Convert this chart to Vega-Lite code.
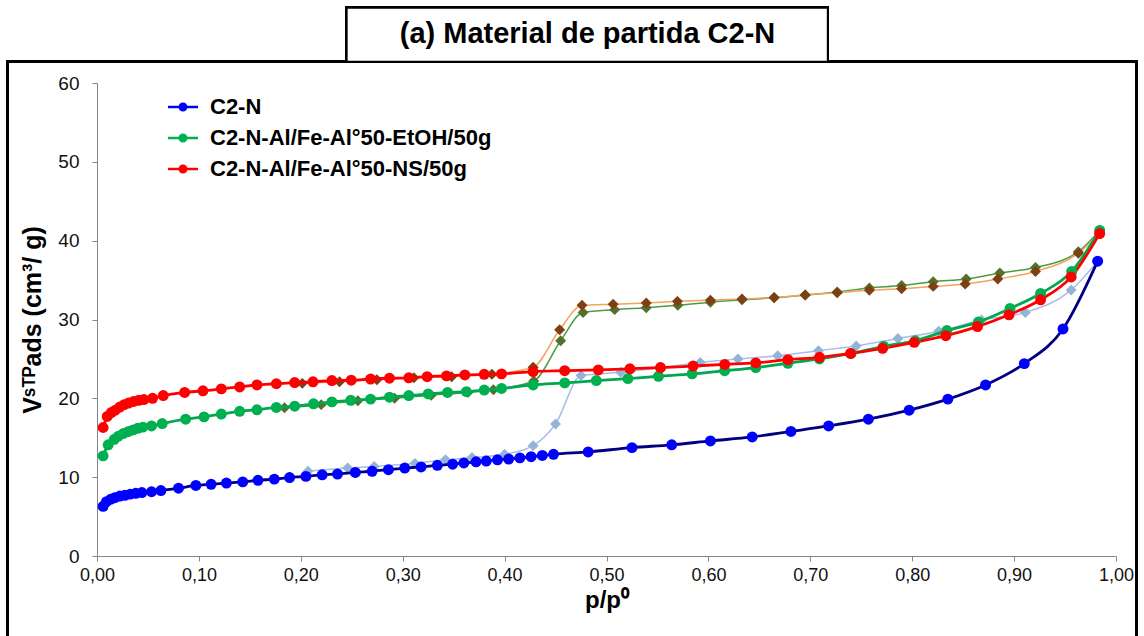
{
  "$schema": "https://vega.github.io/schema/vega-lite/v6.json",
  "autosize": "none",
  "width": 1019,
  "height": 473,
  "padding": {"left": 97, "top": 83, "right": 28, "bottom": 80},
  "background": "white",
  "title": {"text": "(a) Material de partida C2-N", "font": "Liberation Sans", "fontSize": 29, "fontWeight": "bold", "color": "black", "anchor": "middle", "dx": -19, "offset": -65, "baseline": "alphabetic"},
  "config": {
    "view": {"stroke": null},
    "axis": {"grid": false, "labelFlush": false, "domainColor": "#868686", "tickColor": "#868686", "tickSize": 5, "labelFont": "Liberation Sans", "labelColor": "#111", "titleFont": "Liberation Sans", "titleFontWeight": "bold", "titleColor": "black"},
    "legend": {"orient": "none", "legendX": 75, "legendY": 13, "padding": 0, "symbolType": "M-2,-0.16H2V0.16H-2Z M0.6,0A0.6,0.6 0 1,1 -0.6,0A0.6,0.6 0 1,1 0.6,0Z", "symbolSize": 225, "symbolStrokeWidth": 0, "labelFont": "Liberation Sans", "labelFontSize": 22, "labelFontWeight": "bold", "labelColor": "black", "labelOffset": 16, "labelLimit": 0, "rowPadding": 9}
  },
  "data": {"values": [
    {"p":0.006,"v":6.3,"serie":"C2-N","rama":"ads"},
    {"p":0.0093,"v":6.9,"serie":"C2-N","rama":"ads"},
    {"p":0.0136,"v":7.2,"serie":"C2-N","rama":"ads"},
    {"p":0.0175,"v":7.4,"serie":"C2-N","rama":"ads"},
    {"p":0.0224,"v":7.6,"serie":"C2-N","rama":"ads"},
    {"p":0.0273,"v":7.7,"serie":"C2-N","rama":"ads"},
    {"p":0.0326,"v":7.85,"serie":"C2-N","rama":"ads"},
    {"p":0.038,"v":7.95,"serie":"C2-N","rama":"ads"},
    {"p":0.044,"v":8.05,"serie":"C2-N","rama":"ads"},
    {"p":0.0535,"v":8.15,"serie":"C2-N","rama":"ads"},
    {"p":0.0627,"v":8.3,"serie":"C2-N","rama":"ads"},
    {"p":0.08,"v":8.6,"serie":"C2-N","rama":"ads"},
    {"p":0.097,"v":8.95,"serie":"C2-N","rama":"ads"},
    {"p":0.112,"v":9.1,"serie":"C2-N","rama":"ads"},
    {"p":0.127,"v":9.25,"serie":"C2-N","rama":"ads"},
    {"p":0.143,"v":9.4,"serie":"C2-N","rama":"ads"},
    {"p":0.158,"v":9.6,"serie":"C2-N","rama":"ads"},
    {"p":0.174,"v":9.75,"serie":"C2-N","rama":"ads"},
    {"p":0.189,"v":9.95,"serie":"C2-N","rama":"ads"},
    {"p":0.205,"v":10.1,"serie":"C2-N","rama":"ads"},
    {"p":0.221,"v":10.3,"serie":"C2-N","rama":"ads"},
    {"p":0.236,"v":10.4,"serie":"C2-N","rama":"ads"},
    {"p":0.2535,"v":10.6,"serie":"C2-N","rama":"ads"},
    {"p":0.27,"v":10.75,"serie":"C2-N","rama":"ads"},
    {"p":0.286,"v":10.95,"serie":"C2-N","rama":"ads"},
    {"p":0.302,"v":11.15,"serie":"C2-N","rama":"ads"},
    {"p":0.318,"v":11.3,"serie":"C2-N","rama":"ads"},
    {"p":0.334,"v":11.5,"serie":"C2-N","rama":"ads"},
    {"p":0.349,"v":11.65,"serie":"C2-N","rama":"ads"},
    {"p":0.36,"v":11.8,"serie":"C2-N","rama":"ads"},
    {"p":0.372,"v":11.95,"serie":"C2-N","rama":"ads"},
    {"p":0.382,"v":12.05,"serie":"C2-N","rama":"ads"},
    {"p":0.393,"v":12.2,"serie":"C2-N","rama":"ads"},
    {"p":0.404,"v":12.3,"serie":"C2-N","rama":"ads"},
    {"p":0.415,"v":12.45,"serie":"C2-N","rama":"ads"},
    {"p":0.426,"v":12.6,"serie":"C2-N","rama":"ads"},
    {"p":0.437,"v":12.75,"serie":"C2-N","rama":"ads"},
    {"p":0.448,"v":12.9,"serie":"C2-N","rama":"ads"},
    {"p":0.482,"v":13.2,"serie":"C2-N","rama":"ads"},
    {"p":0.525,"v":13.75,"serie":"C2-N","rama":"ads"},
    {"p":0.564,"v":14.1,"serie":"C2-N","rama":"ads"},
    {"p":0.602,"v":14.6,"serie":"C2-N","rama":"ads"},
    {"p":0.643,"v":15.1,"serie":"C2-N","rama":"ads"},
    {"p":0.681,"v":15.8,"serie":"C2-N","rama":"ads"},
    {"p":0.718,"v":16.5,"serie":"C2-N","rama":"ads"},
    {"p":0.757,"v":17.35,"serie":"C2-N","rama":"ads"},
    {"p":0.797,"v":18.5,"serie":"C2-N","rama":"ads"},
    {"p":0.835,"v":19.9,"serie":"C2-N","rama":"ads"},
    {"p":0.872,"v":21.7,"serie":"C2-N","rama":"ads"},
    {"p":0.91,"v":24.4,"serie":"C2-N","rama":"ads"},
    {"p":0.948,"v":28.8,"serie":"C2-N","rama":"ads"},
    {"p":0.982,"v":37.4,"serie":"C2-N","rama":"ads"},

    {"p":0.982,"v":37.4,"serie":"C2-N","rama":"des"},
    {"p":0.956,"v":33.75,"serie":"C2-N","rama":"des"},
    {"p":0.911,"v":30.9,"serie":"C2-N","rama":"des"},
    {"p":0.868,"v":29.95,"serie":"C2-N","rama":"des"},
    {"p":0.826,"v":28.5,"serie":"C2-N","rama":"des"},
    {"p":0.786,"v":27.6,"serie":"C2-N","rama":"des"},
    {"p":0.745,"v":26.65,"serie":"C2-N","rama":"des"},
    {"p":0.708,"v":26.05,"serie":"C2-N","rama":"des"},
    {"p":0.668,"v":25.4,"serie":"C2-N","rama":"des"},
    {"p":0.629,"v":25.0,"serie":"C2-N","rama":"des"},
    {"p":0.592,"v":24.55,"serie":"C2-N","rama":"des"},
    {"p":0.553,"v":23.9,"serie":"C2-N","rama":"des"},
    {"p":0.514,"v":23.3,"serie":"C2-N","rama":"des"},
    {"p":0.475,"v":22.9,"serie":"C2-N","rama":"des"},
    {"p":0.45,"v":16.75,"serie":"C2-N","rama":"des"},
    {"p":0.428,"v":14.0,"serie":"C2-N","rama":"des"},
    {"p":0.4,"v":12.9,"serie":"C2-N","rama":"des"},
    {"p":0.368,"v":12.5,"serie":"C2-N","rama":"des"},
    {"p":0.342,"v":12.2,"serie":"C2-N","rama":"des"},
    {"p":0.312,"v":11.75,"serie":"C2-N","rama":"des"},
    {"p":0.272,"v":11.35,"serie":"C2-N","rama":"des"},
    {"p":0.246,"v":11.15,"serie":"C2-N","rama":"des"},
    {"p":0.207,"v":10.75,"serie":"C2-N","rama":"des"},

    {"p":0.006,"v":12.7,"serie":"C2-N-Al/Fe-Al°50-EtOH/50g","rama":"ads"},
    {"p":0.011,"v":14.1,"serie":"C2-N-Al/Fe-Al°50-EtOH/50g","rama":"ads"},
    {"p":0.017,"v":14.8,"serie":"C2-N-Al/Fe-Al°50-EtOH/50g","rama":"ads"},
    {"p":0.021,"v":15.2,"serie":"C2-N-Al/Fe-Al°50-EtOH/50g","rama":"ads"},
    {"p":0.026,"v":15.55,"serie":"C2-N-Al/Fe-Al°50-EtOH/50g","rama":"ads"},
    {"p":0.031,"v":15.8,"serie":"C2-N-Al/Fe-Al°50-EtOH/50g","rama":"ads"},
    {"p":0.0355,"v":16.0,"serie":"C2-N-Al/Fe-Al°50-EtOH/50g","rama":"ads"},
    {"p":0.04,"v":16.2,"serie":"C2-N-Al/Fe-Al°50-EtOH/50g","rama":"ads"},
    {"p":0.045,"v":16.35,"serie":"C2-N-Al/Fe-Al°50-EtOH/50g","rama":"ads"},
    {"p":0.0535,"v":16.5,"serie":"C2-N-Al/Fe-Al°50-EtOH/50g","rama":"ads"},
    {"p":0.064,"v":16.8,"serie":"C2-N-Al/Fe-Al°50-EtOH/50g","rama":"ads"},
    {"p":0.087,"v":17.35,"serie":"C2-N-Al/Fe-Al°50-EtOH/50g","rama":"ads"},
    {"p":0.105,"v":17.65,"serie":"C2-N-Al/Fe-Al°50-EtOH/50g","rama":"ads"},
    {"p":0.122,"v":18.0,"serie":"C2-N-Al/Fe-Al°50-EtOH/50g","rama":"ads"},
    {"p":0.14,"v":18.35,"serie":"C2-N-Al/Fe-Al°50-EtOH/50g","rama":"ads"},
    {"p":0.157,"v":18.55,"serie":"C2-N-Al/Fe-Al°50-EtOH/50g","rama":"ads"},
    {"p":0.176,"v":18.85,"serie":"C2-N-Al/Fe-Al°50-EtOH/50g","rama":"ads"},
    {"p":0.194,"v":19.0,"serie":"C2-N-Al/Fe-Al°50-EtOH/50g","rama":"ads"},
    {"p":0.2125,"v":19.3,"serie":"C2-N-Al/Fe-Al°50-EtOH/50g","rama":"ads"},
    {"p":0.2305,"v":19.55,"serie":"C2-N-Al/Fe-Al°50-EtOH/50g","rama":"ads"},
    {"p":0.249,"v":19.75,"serie":"C2-N-Al/Fe-Al°50-EtOH/50g","rama":"ads"},
    {"p":0.2685,"v":19.9,"serie":"C2-N-Al/Fe-Al°50-EtOH/50g","rama":"ads"},
    {"p":0.287,"v":20.15,"serie":"C2-N-Al/Fe-Al°50-EtOH/50g","rama":"ads"},
    {"p":0.306,"v":20.35,"serie":"C2-N-Al/Fe-Al°50-EtOH/50g","rama":"ads"},
    {"p":0.325,"v":20.55,"serie":"C2-N-Al/Fe-Al°50-EtOH/50g","rama":"ads"},
    {"p":0.344,"v":20.75,"serie":"C2-N-Al/Fe-Al°50-EtOH/50g","rama":"ads"},
    {"p":0.3625,"v":20.85,"serie":"C2-N-Al/Fe-Al°50-EtOH/50g","rama":"ads"},
    {"p":0.38,"v":21.05,"serie":"C2-N-Al/Fe-Al°50-EtOH/50g","rama":"ads"},
    {"p":0.397,"v":21.25,"serie":"C2-N-Al/Fe-Al°50-EtOH/50g","rama":"ads"},
    {"p":0.428,"v":21.7,"serie":"C2-N-Al/Fe-Al°50-EtOH/50g","rama":"ads"},
    {"p":0.459,"v":21.95,"serie":"C2-N-Al/Fe-Al°50-EtOH/50g","rama":"ads"},
    {"p":0.49,"v":22.25,"serie":"C2-N-Al/Fe-Al°50-EtOH/50g","rama":"ads"},
    {"p":0.521,"v":22.5,"serie":"C2-N-Al/Fe-Al°50-EtOH/50g","rama":"ads"},
    {"p":0.551,"v":22.8,"serie":"C2-N-Al/Fe-Al°50-EtOH/50g","rama":"ads"},
    {"p":0.584,"v":23.1,"serie":"C2-N-Al/Fe-Al°50-EtOH/50g","rama":"ads"},
    {"p":0.616,"v":23.5,"serie":"C2-N-Al/Fe-Al°50-EtOH/50g","rama":"ads"},
    {"p":0.6465,"v":23.9,"serie":"C2-N-Al/Fe-Al°50-EtOH/50g","rama":"ads"},
    {"p":0.678,"v":24.45,"serie":"C2-N-Al/Fe-Al°50-EtOH/50g","rama":"ads"},
    {"p":0.709,"v":25.0,"serie":"C2-N-Al/Fe-Al°50-EtOH/50g","rama":"ads"},
    {"p":0.74,"v":25.7,"serie":"C2-N-Al/Fe-Al°50-EtOH/50g","rama":"ads"},
    {"p":0.772,"v":26.6,"serie":"C2-N-Al/Fe-Al°50-EtOH/50g","rama":"ads"},
    {"p":0.803,"v":27.3,"serie":"C2-N-Al/Fe-Al°50-EtOH/50g","rama":"ads"},
    {"p":0.834,"v":28.6,"serie":"C2-N-Al/Fe-Al°50-EtOH/50g","rama":"ads"},
    {"p":0.865,"v":29.7,"serie":"C2-N-Al/Fe-Al°50-EtOH/50g","rama":"ads"},
    {"p":0.896,"v":31.4,"serie":"C2-N-Al/Fe-Al°50-EtOH/50g","rama":"ads"},
    {"p":0.926,"v":33.3,"serie":"C2-N-Al/Fe-Al°50-EtOH/50g","rama":"ads"},
    {"p":0.9565,"v":36.1,"serie":"C2-N-Al/Fe-Al°50-EtOH/50g","rama":"ads"},
    {"p":0.984,"v":41.3,"serie":"C2-N-Al/Fe-Al°50-EtOH/50g","rama":"ads"},

    {"p":0.984,"v":41.3,"serie":"C2-N-Al/Fe-Al°50-EtOH/50g","rama":"des"},
    {"p":0.963,"v":38.6,"serie":"C2-N-Al/Fe-Al°50-EtOH/50g","rama":"des"},
    {"p":0.921,"v":36.6,"serie":"C2-N-Al/Fe-Al°50-EtOH/50g","rama":"des"},
    {"p":0.886,"v":35.9,"serie":"C2-N-Al/Fe-Al°50-EtOH/50g","rama":"des"},
    {"p":0.853,"v":35.15,"serie":"C2-N-Al/Fe-Al°50-EtOH/50g","rama":"des"},
    {"p":0.8206,"v":34.8,"serie":"C2-N-Al/Fe-Al°50-EtOH/50g","rama":"des"},
    {"p":0.7896,"v":34.3,"serie":"C2-N-Al/Fe-Al°50-EtOH/50g","rama":"des"},
    {"p":0.758,"v":34.0,"serie":"C2-N-Al/Fe-Al°50-EtOH/50g","rama":"des"},
    {"p":0.7264,"v":33.5,"serie":"C2-N-Al/Fe-Al°50-EtOH/50g","rama":"des"},
    {"p":0.695,"v":33.1,"serie":"C2-N-Al/Fe-Al°50-EtOH/50g","rama":"des"},
    {"p":0.6645,"v":32.75,"serie":"C2-N-Al/Fe-Al°50-EtOH/50g","rama":"des"},
    {"p":0.633,"v":32.5,"serie":"C2-N-Al/Fe-Al°50-EtOH/50g","rama":"des"},
    {"p":0.602,"v":32.2,"serie":"C2-N-Al/Fe-Al°50-EtOH/50g","rama":"des"},
    {"p":0.57,"v":31.8,"serie":"C2-N-Al/Fe-Al°50-EtOH/50g","rama":"des"},
    {"p":0.539,"v":31.5,"serie":"C2-N-Al/Fe-Al°50-EtOH/50g","rama":"des"},
    {"p":0.508,"v":31.25,"serie":"C2-N-Al/Fe-Al°50-EtOH/50g","rama":"des"},
    {"p":0.477,"v":30.9,"serie":"C2-N-Al/Fe-Al°50-EtOH/50g","rama":"des"},
    {"p":0.455,"v":27.3,"serie":"C2-N-Al/Fe-Al°50-EtOH/50g","rama":"des"},
    {"p":0.4286,"v":22.2,"serie":"C2-N-Al/Fe-Al°50-EtOH/50g","rama":"des"},
    {"p":0.389,"v":21.1,"serie":"C2-N-Al/Fe-Al°50-EtOH/50g","rama":"des"},
    {"p":0.364,"v":20.75,"serie":"C2-N-Al/Fe-Al°50-EtOH/50g","rama":"des"},
    {"p":0.328,"v":20.4,"serie":"C2-N-Al/Fe-Al°50-EtOH/50g","rama":"des"},
    {"p":0.292,"v":20.0,"serie":"C2-N-Al/Fe-Al°50-EtOH/50g","rama":"des"},
    {"p":0.256,"v":19.7,"serie":"C2-N-Al/Fe-Al°50-EtOH/50g","rama":"des"},
    {"p":0.22,"v":19.2,"serie":"C2-N-Al/Fe-Al°50-EtOH/50g","rama":"des"},
    {"p":0.184,"v":18.8,"serie":"C2-N-Al/Fe-Al°50-EtOH/50g","rama":"des"},

    {"p":0.006,"v":16.3,"serie":"C2-N-Al/Fe-Al°50-NS/50g","rama":"ads"},
    {"p":0.01,"v":17.7,"serie":"C2-N-Al/Fe-Al°50-NS/50g","rama":"ads"},
    {"p":0.014,"v":18.2,"serie":"C2-N-Al/Fe-Al°50-NS/50g","rama":"ads"},
    {"p":0.018,"v":18.5,"serie":"C2-N-Al/Fe-Al°50-NS/50g","rama":"ads"},
    {"p":0.0224,"v":18.9,"serie":"C2-N-Al/Fe-Al°50-NS/50g","rama":"ads"},
    {"p":0.0267,"v":19.2,"serie":"C2-N-Al/Fe-Al°50-NS/50g","rama":"ads"},
    {"p":0.031,"v":19.4,"serie":"C2-N-Al/Fe-Al°50-NS/50g","rama":"ads"},
    {"p":0.036,"v":19.6,"serie":"C2-N-Al/Fe-Al°50-NS/50g","rama":"ads"},
    {"p":0.041,"v":19.75,"serie":"C2-N-Al/Fe-Al°50-NS/50g","rama":"ads"},
    {"p":0.046,"v":19.85,"serie":"C2-N-Al/Fe-Al°50-NS/50g","rama":"ads"},
    {"p":0.0545,"v":20.0,"serie":"C2-N-Al/Fe-Al°50-NS/50g","rama":"ads"},
    {"p":0.065,"v":20.35,"serie":"C2-N-Al/Fe-Al°50-NS/50g","rama":"ads"},
    {"p":0.086,"v":20.75,"serie":"C2-N-Al/Fe-Al°50-NS/50g","rama":"ads"},
    {"p":0.104,"v":20.95,"serie":"C2-N-Al/Fe-Al°50-NS/50g","rama":"ads"},
    {"p":0.122,"v":21.2,"serie":"C2-N-Al/Fe-Al°50-NS/50g","rama":"ads"},
    {"p":0.14,"v":21.45,"serie":"C2-N-Al/Fe-Al°50-NS/50g","rama":"ads"},
    {"p":0.157,"v":21.7,"serie":"C2-N-Al/Fe-Al°50-NS/50g","rama":"ads"},
    {"p":0.176,"v":21.85,"serie":"C2-N-Al/Fe-Al°50-NS/50g","rama":"ads"},
    {"p":0.194,"v":22.0,"serie":"C2-N-Al/Fe-Al°50-NS/50g","rama":"ads"},
    {"p":0.212,"v":22.1,"serie":"C2-N-Al/Fe-Al°50-NS/50g","rama":"ads"},
    {"p":0.2305,"v":22.25,"serie":"C2-N-Al/Fe-Al°50-NS/50g","rama":"ads"},
    {"p":0.2495,"v":22.3,"serie":"C2-N-Al/Fe-Al°50-NS/50g","rama":"ads"},
    {"p":0.2685,"v":22.45,"serie":"C2-N-Al/Fe-Al°50-NS/50g","rama":"ads"},
    {"p":0.287,"v":22.55,"serie":"C2-N-Al/Fe-Al°50-NS/50g","rama":"ads"},
    {"p":0.306,"v":22.6,"serie":"C2-N-Al/Fe-Al°50-NS/50g","rama":"ads"},
    {"p":0.324,"v":22.75,"serie":"C2-N-Al/Fe-Al°50-NS/50g","rama":"ads"},
    {"p":0.343,"v":22.85,"serie":"C2-N-Al/Fe-Al°50-NS/50g","rama":"ads"},
    {"p":0.361,"v":22.97,"serie":"C2-N-Al/Fe-Al°50-NS/50g","rama":"ads"},
    {"p":0.38,"v":23.05,"serie":"C2-N-Al/Fe-Al°50-NS/50g","rama":"ads"},
    {"p":0.397,"v":23.1,"serie":"C2-N-Al/Fe-Al°50-NS/50g","rama":"ads"},
    {"p":0.428,"v":23.4,"serie":"C2-N-Al/Fe-Al°50-NS/50g","rama":"ads"},
    {"p":0.459,"v":23.5,"serie":"C2-N-Al/Fe-Al°50-NS/50g","rama":"ads"},
    {"p":0.492,"v":23.6,"serie":"C2-N-Al/Fe-Al°50-NS/50g","rama":"ads"},
    {"p":0.523,"v":23.75,"serie":"C2-N-Al/Fe-Al°50-NS/50g","rama":"ads"},
    {"p":0.553,"v":23.9,"serie":"C2-N-Al/Fe-Al°50-NS/50g","rama":"ads"},
    {"p":0.585,"v":24.1,"serie":"C2-N-Al/Fe-Al°50-NS/50g","rama":"ads"},
    {"p":0.616,"v":24.3,"serie":"C2-N-Al/Fe-Al°50-NS/50g","rama":"ads"},
    {"p":0.6465,"v":24.5,"serie":"C2-N-Al/Fe-Al°50-NS/50g","rama":"ads"},
    {"p":0.678,"v":24.9,"serie":"C2-N-Al/Fe-Al°50-NS/50g","rama":"ads"},
    {"p":0.709,"v":25.2,"serie":"C2-N-Al/Fe-Al°50-NS/50g","rama":"ads"},
    {"p":0.7395,"v":25.7,"serie":"C2-N-Al/Fe-Al°50-NS/50g","rama":"ads"},
    {"p":0.771,"v":26.35,"serie":"C2-N-Al/Fe-Al°50-NS/50g","rama":"ads"},
    {"p":0.802,"v":27.1,"serie":"C2-N-Al/Fe-Al°50-NS/50g","rama":"ads"},
    {"p":0.833,"v":27.95,"serie":"C2-N-Al/Fe-Al°50-NS/50g","rama":"ads"},
    {"p":0.864,"v":29.1,"serie":"C2-N-Al/Fe-Al°50-NS/50g","rama":"ads"},
    {"p":0.895,"v":30.6,"serie":"C2-N-Al/Fe-Al°50-NS/50g","rama":"ads"},
    {"p":0.926,"v":32.5,"serie":"C2-N-Al/Fe-Al°50-NS/50g","rama":"ads"},
    {"p":0.956,"v":35.4,"serie":"C2-N-Al/Fe-Al°50-NS/50g","rama":"ads"},
    {"p":0.984,"v":40.9,"serie":"C2-N-Al/Fe-Al°50-NS/50g","rama":"ads"},

    {"p":0.984,"v":40.9,"serie":"C2-N-Al/Fe-Al°50-NS/50g","rama":"des"},
    {"p":0.963,"v":38.4,"serie":"C2-N-Al/Fe-Al°50-NS/50g","rama":"des"},
    {"p":0.921,"v":36.1,"serie":"C2-N-Al/Fe-Al°50-NS/50g","rama":"des"},
    {"p":0.884,"v":35.15,"serie":"C2-N-Al/Fe-Al°50-NS/50g","rama":"des"},
    {"p":0.852,"v":34.5,"serie":"C2-N-Al/Fe-Al°50-NS/50g","rama":"des"},
    {"p":0.8206,"v":34.2,"serie":"C2-N-Al/Fe-Al°50-NS/50g","rama":"des"},
    {"p":0.7896,"v":33.9,"serie":"C2-N-Al/Fe-Al°50-NS/50g","rama":"des"},
    {"p":0.758,"v":33.7,"serie":"C2-N-Al/Fe-Al°50-NS/50g","rama":"des"},
    {"p":0.7264,"v":33.4,"serie":"C2-N-Al/Fe-Al°50-NS/50g","rama":"des"},
    {"p":0.695,"v":33.1,"serie":"C2-N-Al/Fe-Al°50-NS/50g","rama":"des"},
    {"p":0.6645,"v":32.8,"serie":"C2-N-Al/Fe-Al°50-NS/50g","rama":"des"},
    {"p":0.633,"v":32.6,"serie":"C2-N-Al/Fe-Al°50-NS/50g","rama":"des"},
    {"p":0.602,"v":32.45,"serie":"C2-N-Al/Fe-Al°50-NS/50g","rama":"des"},
    {"p":0.5696,"v":32.3,"serie":"C2-N-Al/Fe-Al°50-NS/50g","rama":"des"},
    {"p":0.539,"v":32.1,"serie":"C2-N-Al/Fe-Al°50-NS/50g","rama":"des"},
    {"p":0.5065,"v":31.95,"serie":"C2-N-Al/Fe-Al°50-NS/50g","rama":"des"},
    {"p":0.476,"v":31.8,"serie":"C2-N-Al/Fe-Al°50-NS/50g","rama":"des"},
    {"p":0.454,"v":28.7,"serie":"C2-N-Al/Fe-Al°50-NS/50g","rama":"des"},
    {"p":0.428,"v":23.95,"serie":"C2-N-Al/Fe-Al°50-NS/50g","rama":"des"},
    {"p":0.3876,"v":23.05,"serie":"C2-N-Al/Fe-Al°50-NS/50g","rama":"des"},
    {"p":0.348,"v":22.75,"serie":"C2-N-Al/Fe-Al°50-NS/50g","rama":"des"},
    {"p":0.311,"v":22.6,"serie":"C2-N-Al/Fe-Al°50-NS/50g","rama":"des"},
    {"p":0.2747,"v":22.35,"serie":"C2-N-Al/Fe-Al°50-NS/50g","rama":"des"},
    {"p":0.238,"v":22.1,"serie":"C2-N-Al/Fe-Al°50-NS/50g","rama":"des"},
    {"p":0.2015,"v":21.9,"serie":"C2-N-Al/Fe-Al°50-NS/50g","rama":"des"}
  ]},
  "encoding": {
    "x": {"field": "p", "type": "quantitative", "scale": {"domain": [0, 1], "nice": false, "zero": false},
      "axis": {"values": [0, 0.1, 0.2, 0.3, 0.4, 0.5, 0.6, 0.7, 0.8, 0.9, 1.0], "labelExpr": "replace(format(datum.value, '.2f'), '.', ',')", "labelFontSize": 18, "labelPadding": 5, "title": "p/p⁰", "titleFontSize": 24, "titlePadding": 4}},
    "y": {"field": "v", "type": "quantitative", "scale": {"domain": [0, 60], "nice": false},
      "axis": {"values": [0, 10, 20, 30, 40, 50, 60], "labelFontSize": 19, "labelPadding": 13, "title": "Vˢᵀᴾads (cm³/ g)", "titleFontSize": 25, "titlePadding": 12}}
  },
  "layer": [
    {
      "mark": {"type": "rect", "fill": null, "stroke": "black", "strokeWidth": 2},
      "encoding": {
        "x": {"datum": -0.0879}, "x2": {"datum": 1.0206},
        "y": {"datum": 62.7}, "y2": {"datum": -10.4}
      }
    },
    {
      "mark": {"type": "rect", "fill": "white", "stroke": "black", "strokeWidth": 2},
      "encoding": {
        "x": {"datum": 0.245}, "x2": {"datum": 0.7172},
        "y": {"datum": 69.54}, "y2": {"datum": 62.7}
      }
    },
    {
      "transform": [{"filter": "datum.rama == 'des'"}],
      "mark": {"type": "line", "strokeWidth": 1.5, "interpolate": "monotone"},
      "encoding": {
        "color": {"field": "serie", "type": "nominal", "legend": null,
          "scale": {"domain": ["C2-N", "C2-N-Al/Fe-Al°50-EtOH/50g", "C2-N-Al/Fe-Al°50-NS/50g"], "range": ["#A7BEE6", "#4E9A45", "#F2A35E"]}},
        "order": {"field": "p", "type": "quantitative"}
      }
    },
    {
      "transform": [{"filter": "datum.rama == 'des'"}],
      "mark": {"type": "point", "shape": "diamond", "filled": true, "size": 120, "opacity": 1},
      "encoding": {
        "color": {"field": "serie", "type": "nominal", "legend": null,
          "scale": {"domain": ["C2-N", "C2-N-Al/Fe-Al°50-EtOH/50g", "C2-N-Al/Fe-Al°50-NS/50g"], "range": ["#95B3D7", "#56702C", "#7E3F12"]}}
      }
    },
    {
      "transform": [{"filter": "datum.rama == 'ads'"}],
      "mark": {"type": "line", "strokeWidth": 2.8, "interpolate": "monotone"},
      "encoding": {
        "color": {"field": "serie", "type": "nominal", "legend": null,
          "scale": {"domain": ["C2-N", "C2-N-Al/Fe-Al°50-EtOH/50g", "C2-N-Al/Fe-Al°50-NS/50g"], "range": ["#000080", "#00A650", "#FF0000"]}},
        "order": {"field": "p", "type": "quantitative"}
      }
    },
    {
      "transform": [{"filter": "datum.rama == 'ads'"}],
      "mark": {"type": "point", "shape": "circle", "filled": true, "size": 120, "opacity": 1},
      "encoding": {
        "color": {"field": "serie", "type": "nominal",
          "scale": {"domain": ["C2-N", "C2-N-Al/Fe-Al°50-EtOH/50g", "C2-N-Al/Fe-Al°50-NS/50g"], "range": ["#0000FF", "#00B050", "#FF0000"]},
          "legend": {"title": null}}
      }
    }
  ],
  "resolve": {"scale": {"color": "independent"}}
}
